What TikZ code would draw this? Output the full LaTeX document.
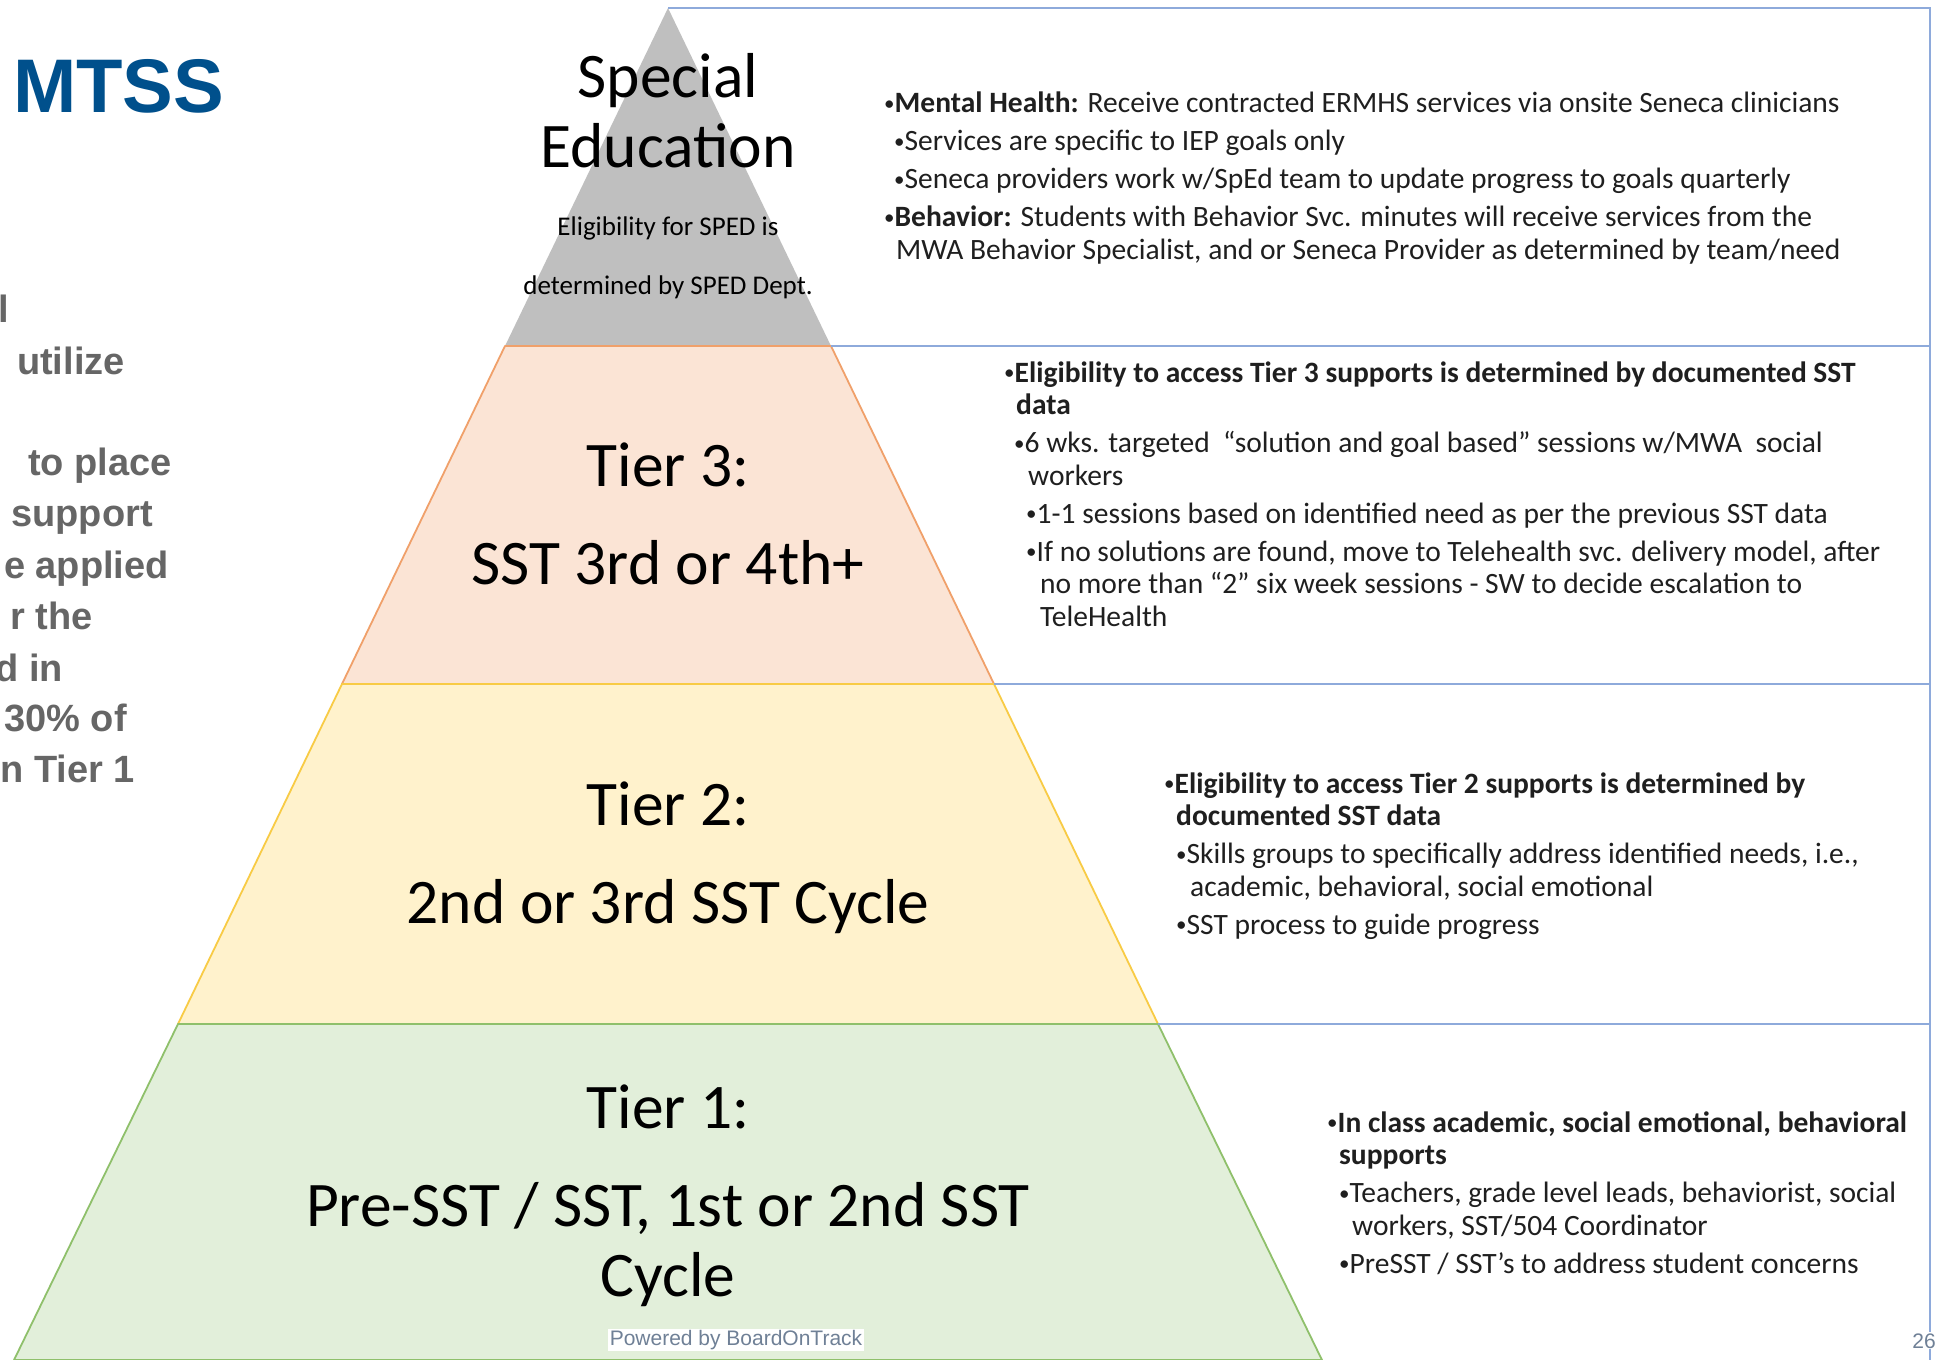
\documentclass[tikz,border=0pt]{standalone}
\usepackage{fontspec}
\setmainfont{Carlito}
\newfontfamily\arialfont{Liberation Sans}
\usetikzlibrary{positioning,calc}
\definecolor{mtssblue}{HTML}{00508C}
\definecolor{leftgray}{HTML}{666666}
\definecolor{spedgray}{HTML}{BFBFBF}
\definecolor{tierthree}{HTML}{FBE4D5}
\definecolor{tierthreeline}{HTML}{F0A06A}
\definecolor{tiertwo}{HTML}{FFF2CC}
\definecolor{tiertwoline}{HTML}{F8CB45}
\definecolor{tierone}{HTML}{E2EFDA}
\definecolor{tieroneline}{HTML}{8FC06B}
\definecolor{boxline}{HTML}{8EAADB}
\definecolor{notetext}{HTML}{1F1F1F}
\definecolor{footgray}{HTML}{6F8096}
\newcommand{\nb}{{\fontsize{21}{21}\selectfont\raisebox{2.5pt}{•}}}

\begin{document}
\begin{tikzpicture}[
  x=1pt, y=-1pt,
  tier/.style={
    line width=1.8pt,
    line join=round,
  },
  frame/.style={
    draw=boxline,
    line width=1.8pt,
  },
  tierlabel/.style={
    anchor=base,
    align=center,
    inner sep=0pt,
    font=\fontsize{63.5}{70}\selectfont,
  },
  note/.style={
    anchor=base west,
    align=left,
    inner sep=0pt,
    text=notetext,
    font=\fontsize{29.5}{32.5}\selectfont,
  },
  sidetext/.style={
    anchor=base east,
    inner sep=0pt,
    text=leftgray,
    font=\arialfont\bfseries\fontsize{38}{46}\selectfont,
  },
  foot/.style={
    fill=white,
    inner xsep=2pt,
    inner ysep=1pt,
    text=footgray,
    font=\arialfont\fontsize{21}{24}\selectfont,
  }]
  \useasboundingbox (0,0) rectangle (1939,1360);
  \fill[white] (0,0) rectangle (1939,1360);

  % pyramid corners
  \coordinate (apex) at (668,8);
  \coordinate (s3l) at (505,346);
  \coordinate (s3r) at (831,346);
  \coordinate (s2l) at (342,684);
  \coordinate (s2r) at (994,684);
  \coordinate (s1l) at (178,1024);
  \coordinate (s1r) at (1158,1024);
  \coordinate (s0l) at (14,1360);
  \coordinate (s0r) at (1322,1360);

  % right frame corners
  \coordinate (ftop) at (1930,8);
  \coordinate (f3) at (1930,346);
  \coordinate (f2) at (1930,684);
  \coordinate (f1) at (1930,1024);
  \coordinate (fbot) at (1930,1360);

  % tiers, top down
  \fill[spedgray] (apex) -- (s3r) -- (s3l) -- cycle;
  \filldraw[tier, fill=tierthree, draw=tierthreeline] (s3l) -- (s3r) -- (s2r) -- (s2l) -- cycle;
  \filldraw[tier, fill=tiertwo, draw=tiertwoline] (s2l) -- (s2r) -- (s1r) -- (s1l) -- cycle;
  \filldraw[tier, fill=tierone, draw=tieroneline] (s1l) -- (s1r) -- (s0r) -- (s0l) -- cycle;

  % boxes on the right
  \draw[frame] (apex) -- (ftop) -- (fbot);
  \draw[frame] (s3r) -- (f3);
  \draw[frame] (s2r) -- (f2);
  \draw[frame] (s1r) -- (f1);

  % title and cut-off side text
  \node[anchor=base west, inner sep=0pt, text=mtssblue,
    font=\arialfont\bfseries\fontsize{76}{80}\selectfont] (title) at (13,112) {MTSS};
  \foreach \txt/\xe/\yb [count=\i] in {l/9/322, utilize/125/374, to place/172/475,
      support/153/526, e applied/169/578, r the/93/629, d in/63/681,
      30\% of/127/731, n Tier 1/135/782}
    \node[sidetext, name=side\i] at (\xe,\yb) {\txt};

  % labels in the pyramid (anchored at the last line)
  \node[tierlabel] (sped) at (668,167) {Special\\Education};
  \node[tierlabel, font=\fontsize{27}{59}\selectfont] (spedelig) at (668,294)
    {Eligibility for SPED is\\determined by SPED Dept.};
  \node[tierlabel] (tier3) at (668,584) {Tier 3:\\[28pt]SST 3rd or 4th+};
  \node[tierlabel] (tier2) at (668,923) {Tier 2:\\[28pt]2nd or 3rd SST Cycle};
  \node[tierlabel] (tier1) at (668,1296) {Tier 1:\\[28pt]Pre-SST / SST, 1st or 2nd SST\\Cycle};

  % notes beside each tier
  \node[note] (spednote) at (884,259) {%
    \nb\textbf{Mental Health:} Receive contracted ERMHS services via onsite Seneca clinicians\\[5.5pt]
    \hspace*{10pt}\nb Services are specific to IEP goals only\\[5.5pt]
    \hspace*{10pt}\nb Seneca providers work w/SpEd team to update progress to goals quarterly\\[5.5pt]
    \nb\textbf{Behavior:} Students with Behavior Svc. minutes will receive services from the\\
    \hspace*{12pt}MWA Behavior Specialist, and or Seneca Provider as determined by team/need};
  \node[note] (note3) at (1004,626) {%
    \nb\textbf{Eligibility to access Tier 3 supports is determined by documented SST}\\
    \hspace*{12pt}\textbf{data}\\[5.5pt]
    \hspace*{10pt}\nb 6 wks. targeted \ “solution and goal based” sessions w/MWA \ social\\
    \hspace*{24pt}workers\\[5.5pt]
    \hspace*{22pt}\nb 1-1 sessions based on identified need as per the previous SST data\\[5.5pt]
    \hspace*{22pt}\nb If no solutions are found, move to Telehealth svc. delivery model, after\\
    \hspace*{36pt}no more than “2” six week sessions - SW to decide escalation to\\
    \hspace*{36pt}TeleHealth};
  \node[note] (note2) at (1164,934) {%
    \nb\textbf{Eligibility to access Tier 2 supports is determined by}\\
    \hspace*{12pt}\textbf{documented SST data}\\[5.5pt]
    \hspace*{12pt}\nb Skills groups to specifically address identified needs, i.e.,\\
    \hspace*{26pt}academic, behavioral, social emotional\\[5.5pt]
    \hspace*{12pt}\nb SST process to guide progress};
  \node[note] (note1) at (1327,1273) {%
    \nb\textbf{In class academic, social emotional, behavioral}\\
    \hspace*{12pt}\textbf{supports}\\[5.5pt]
    \hspace*{12pt}\nb Teachers, grade level leads, behaviorist, social\\
    \hspace*{25pt}workers, SST/504 Coordinator\\[5.5pt]
    \hspace*{12pt}\nb PreSST / SST’s to address student concerns};

  % footer
  \node[foot] (powered) at (736,1340) {Powered by BoardOnTrack};
  \node[foot, anchor=base east, inner xsep=1pt] (page) at (1937,1348) {26};
\end{tikzpicture}
\end{document}
